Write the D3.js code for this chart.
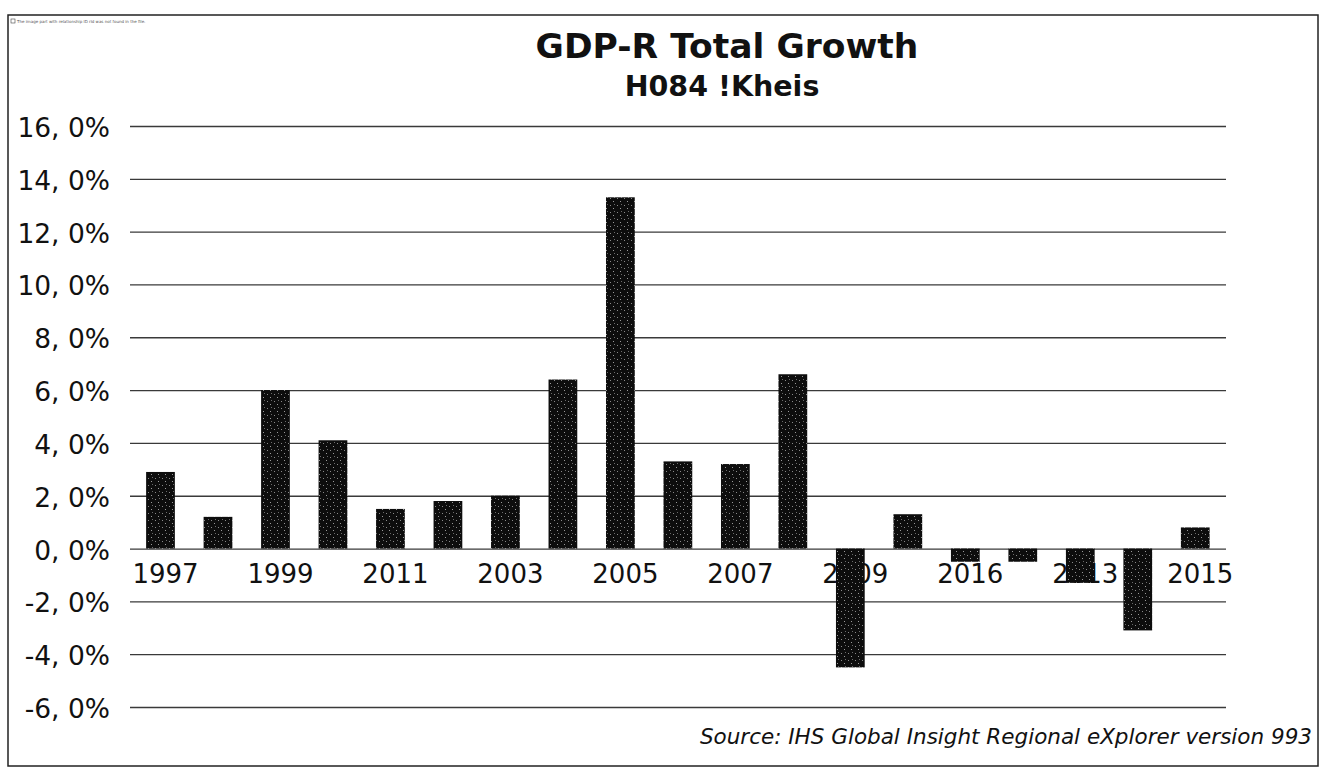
<!DOCTYPE html>
<html>
<head>
<meta charset="utf-8">
<script src="https://cdn.jsdelivr.net/npm/d3@7"></script>
<style>
  body { margin: 0; background: #fff; }
  svg { display: block; font-family: "DejaVu Sans", Verdana, sans-serif; }
</style>
</head>
<body>
<div id="chart"></div>
<script>
// data (percent growth)
var years = ["1997", "1998", "1999", "2000", "2001", "2002", "2003", "2004", "2005", "2006",
             "2007", "2008", "2009", "2010", "2011", "2012", "2013", "2014", "2015"];
var growth = [2.9, 1.2, 6.0, 4.1, 1.5, 1.8, 2.0, 6.4, 13.3, 3.3,
              3.2, 6.6, -4.5, 1.3, -0.5, -0.5, -1.3, -3.1, 0.8];
// axis labels as printed under the bars (every second year)
var xLabels = ["1997", "", "1999", "", "2011", "", "2003", "", "2005", "",
               "2007", "", "2009", "", "2016", "", "2013", "", "2015"];
var yTicks = [16, 14, 12, 10, 8, 6, 4, 2, 0, -2, -4, -6];

var W = 1323, H = 769;

var svg = d3.select('#chart')
    .append('svg')
    .attr('width', W)
    .attr('height', H);

// speckled fill like the scan
var pat = svg.append('defs').append('pattern')
    .attr('id', 'speck')
    .attr('patternUnits', 'userSpaceOnUse')
    .attr('width', 7)
    .attr('height', 7);
pat.append('rect').attr('width', 7).attr('height', 7).attr('fill', '#0d0d0d');
pat.append('rect').attr('x', 1).attr('y', 2).attr('width', 1).attr('height', 1).attr('fill', '#8a8a8a');
pat.append('rect').attr('x', 4).attr('y', 5).attr('width', 1).attr('height', 1).attr('fill', '#9a9a9a');
pat.append('rect').attr('x', 5).attr('y', 1).attr('width', 1).attr('height', 1).attr('fill', '#6a6a6a');

// frame
svg.append('rect')
    .attr('x', 8).attr('y', 15)
    .attr('width', 1310).attr('height', 751)
    .attr('fill', 'none')
    .attr('stroke', '#222')
    .attr('stroke-width', 1.5);

// missing image placeholder in the corner
svg.append('rect')
    .attr('x', 11).attr('y', 19).attr('width', 4).attr('height', 4)
    .attr('fill', 'none').attr('stroke', '#444').attr('stroke-width', 0.6);
svg.append('text')
    .attr('x', 17).attr('y', 23)
    .attr('font-size', 4)
    .attr('fill', '#555')
    .text('The image part with relationship ID rId was not found in the file.');

var xScale = d3.scaleBand()
    .domain(years)
    .range([131.75, 1224])
    .paddingInner(0.5)
    .paddingOuter(0.25);

var yScale = d3.scaleLinear()
    .domain([-6, 16])
    .range([707, 126]);

// gridlines
var yAxis = d3.axisLeft(yScale)
    .tickValues(yTicks)
    .tickSize(-(1226 - 130))
    .tickFormat('');

var grid = svg.append('g')
    .attr('class', 'grid')
    .attr('transform', 'translate(130,0)')
    .call(yAxis);
grid.select('.domain').remove();
grid.selectAll('line')
    .attr('stroke', '#3a3a3a')
    .attr('stroke-width', 1.3);

// y labels
svg.append('g')
    .selectAll('text')
    .data(yTicks)
    .enter()
    .append('text')
    .attr('x', 110)
    .attr('y', function (d) { return yScale(d) + 11; })
    .attr('text-anchor', 'end')
    .attr('font-size', 26.5)
    .attr('fill', '#111')
    .text(function (d) { return d + ', 0%'; });

// x labels (drawn before the bars so the bars cover them)
svg.append('g')
    .selectAll('text')
    .data(years)
    .enter()
    .append('text')
    .attr('x', function (d) { return xScale(d) + xScale.bandwidth() / 2 + 5; })
    .attr('y', 583)
    .attr('text-anchor', 'middle')
    .attr('font-size', 26)
    .attr('fill', '#111')
    .text(function (d, i) { return xLabels[i]; });

// bars
svg.append('g')
    .selectAll('rect')
    .data(growth)
    .enter()
    .append('rect')
    .attr('x', function (d, i) { return xScale(years[i]); })
    .attr('y', function (d) { return yScale(Math.max(0, d)); })
    .attr('width', xScale.bandwidth())
    .attr('height', function (d) { return Math.abs(yScale(d) - yScale(0)); })
    .attr('fill', 'url(#speck)');

// titles
svg.append('text')
    .attr('x', 727)
    .attr('y', 58)
    .attr('text-anchor', 'middle')
    .attr('font-size', 34.5)
    .attr('font-weight', 'bold')
    .attr('fill', '#111')
    .text('GDP-R Total Growth');

svg.append('text')
    .attr('x', 722)
    .attr('y', 96)
    .attr('text-anchor', 'middle')
    .attr('font-size', 28.5)
    .attr('font-weight', 'bold')
    .attr('fill', '#111')
    .text('H084 !Kheis');

svg.append('text')
    .attr('x', 1312)
    .attr('y', 744)
    .attr('text-anchor', 'end')
    .attr('font-size', 21.5)
    .attr('font-style', 'italic')
    .attr('fill', '#111')
    .text('Source: IHS Global Insight Regional eXplorer version 993');
</script>
</body>
</html>
